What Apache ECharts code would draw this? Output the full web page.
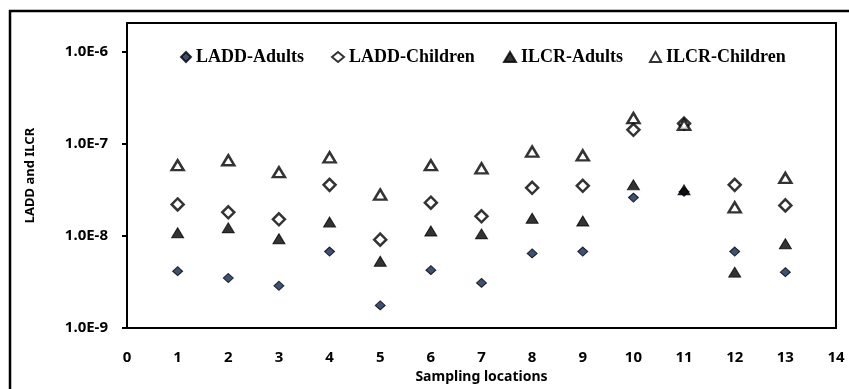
<!DOCTYPE html>
<html>
<head>
<meta charset="utf-8">
<script src="https://cdn.jsdelivr.net/npm/echarts@6/dist/echarts.min.js"></script>
<style>html,body{margin:0;padding:0;background:#fff;}#c{width:849px;height:389px;}</style>
</head>
<body>
<div id="c"></div>
<script>
var locations = [1,2,3,4,5,6,7,8,9,10,11,12,13];
var laddAdults = [4.14e-9, 3.49e-9, 2.88e-9, 6.76e-9, 1.76e-9, 4.25e-9, 3.09e-9, 6.45e-9, 6.76e-9, 2.6e-8, 3.0e-8, 6.76e-9, 4.04e-9];
var laddChildren = [2.19e-8, 1.8e-8, 1.51e-8, 3.57e-8, 9.1e-9, 2.29e-8, 1.63e-8, 3.32e-8, 3.49e-8, 1.41e-7, 1.65e-7, 3.57e-8, 2.14e-8];
var ilcrAdults = [1.08e-8, 1.22e-8, 9.3e-9, 1.41e-8, 5.3e-9, 1.13e-8, 1.05e-8, 1.55e-8, 1.45e-8, 3.57e-8, 3.15e-8, 4.04e-9, 8.2e-9];
var ilcrChildren = [5.83e-8, 6.6e-8, 4.9e-8, 7.1e-8, 2.8e-8, 5.83e-8, 5.4e-8, 8.2e-8, 7.45e-8, 1.89e-7, 1.6e-7, 2.04e-8, 4.25e-8];
var seriesNames = ['LADD-Adults', 'LADD-Children', 'ILCR-Adults', 'ILCR-Children'];
var xTicks = [0,1,2,3,4,5,6,7,8,9,10,11,12,13,14];

function pairs(vals){ return locations.map(function(x,i){ return [x, vals[i]]; }); }

var chart = echarts.init(document.getElementById('c'));
var legendText = {fontFamily: 'Liberation Serif', fontWeight: 'bold', fontSize: 18, color: '#000'};
function leg(name, left, w){
  return {data: [name], left: left, top: 48, itemWidth: w, itemHeight: 10, itemGap: 0,
    textStyle: legendText, selectedMode: false, padding: 0};
}
var axisFont = {fontFamily: 'Noto Sans', fontWeight: 'bold', fontSize: 15, color: '#000'};
chart.setOption({
  animation: false,
  graphic: [{type: 'rect', shape: {x: 10, y: 11, width: 900, height: 500},
    style: {fill: 'none', stroke: '#000', lineWidth: 2.5}, silent: true}],
  legend: [leg(seriesNames[0], 180, 10), leg(seriesNames[1], 331, 12), leg(seriesNames[2], 503, 12), leg(seriesNames[3], 649, 11)],
  grid: {left: 127, right: 13, top: 23, bottom: 54, show: true, borderColor: '#000', borderWidth: 2, backgroundColor: 'transparent'},
  xAxis: {
    type: 'value', min: 0, max: 14, interval: 1,
    name: 'Sampling locations', nameLocation: 'middle', nameGap: 38,
    nameTextStyle: {fontFamily: 'Noto Sans', fontWeight: 'bold', fontSize: 14, color: '#000'},
    axisLine: {show: true, lineStyle: {color: '#000', width: 2}},
    axisTick: {show: false}, splitLine: {show: false},
    axisLabel: Object.assign({margin: 22, formatter: function(v){ return xTicks.indexOf(v) >= 0 ? String(v) : ''; }}, axisFont)
  },
  yAxis: {
    type: 'log', logBase: 10, min: 1e-9, max: 2.03e-6,
    name: 'LADD and ILCR', nameLocation: 'middle', nameGap: 90,
    nameTextStyle: {fontFamily: 'Noto Sans', fontWeight: 'bold', fontSize: 13, color: '#000'},
    axisLine: {show: true, lineStyle: {color: '#000', width: 2}},
    axisTick: {show: true, length: 5, lineStyle: {color: '#000', width: 2}},
    splitLine: {show: false}, minorTick: {show: false},
    axisLabel: Object.assign({margin: 19, showMaxLabel: false, formatter: function(v){
      var e = Math.log10(v); if (Math.abs(e - Math.round(e)) > 1e-6) return '';
      return '1.0E' + Math.round(e); }}, axisFont)
  },
  series: [
    {name: seriesNames[0], type: 'scatter', data: pairs(laddAdults), symbol: 'diamond', symbolSize: [10, 9],
      itemStyle: {color: '#0b2550', borderColor: '#000', borderWidth: 1}},
    {name: seriesNames[1], type: 'scatter', data: pairs(laddChildren), symbol: 'diamond', symbolSize: [12, 12],
      itemStyle: {color: '#fff', borderColor: '#000', borderWidth: 2.5}},
    {name: seriesNames[2], type: 'scatter', data: pairs(ilcrAdults), symbol: 'triangle', symbolSize: [12, 10],
      itemStyle: {color: '#000', borderColor: '#000', borderWidth: 1}},
    {name: seriesNames[3], type: 'scatter', data: pairs(ilcrChildren), symbol: 'triangle', symbolSize: [12, 10],
      itemStyle: {color: '#fff', borderColor: '#000', borderWidth: 2.5}}
  ]
});
</script>
</body>
</html>
